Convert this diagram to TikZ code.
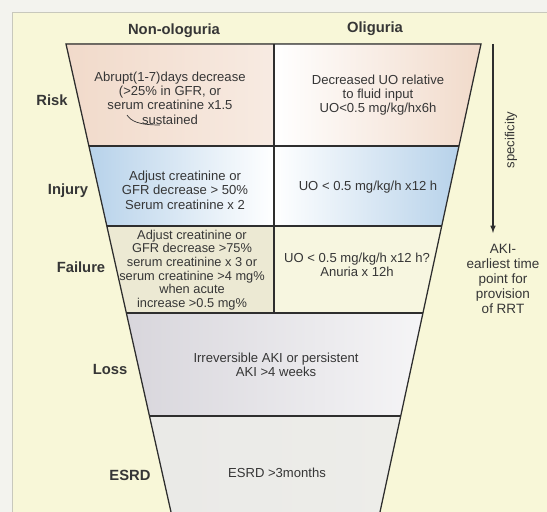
\documentclass[tikz,border=0pt]{standalone}
\usepackage{fontspec}
\setmainfont{Liberation Sans}
\usetikzlibrary{positioning}

\definecolor{outerwhite}{HTML}{F3F3EE}
\definecolor{panelyellow}{HTML}{F8F7D8}
\definecolor{panelborder}{HTML}{C8C8BC}
\definecolor{linegrey}{HTML}{2E2E2E}
\definecolor{textgrey}{HTML}{363636}
\definecolor{riskpeach}{HTML}{F1DACA}
\definecolor{injblue}{HTML}{B7D2EA}
\definecolor{failbeige}{HTML}{ECE9D3}
\definecolor{failyellow}{HTML}{F7F6E0}
\definecolor{lossgrey}{HTML}{D8D6DC}
\definecolor{esrdgrey}{HTML}{EDEDE9}

\tikzset{
  celltext/.style={align=center, text=textgrey, font=\fontsize{9.3}{10.2}\selectfont},
  rowlabel/.style={text=textgrey, font=\fontsize{10.5}{12}\selectfont\bfseries},
  funnelline/.style={draw=linegrey, line width=0.9pt},
}

\begin{document}
\begin{tikzpicture}[x=0.025cm, y=-0.025cm]
  \useasboundingbox (0,0) rectangle (547,512);

  % Pozadi - panel
  \fill[outerwhite] (0,0) rectangle (547,512);
  \fill[panelyellow] (12,12) rectangle (547,512);
  \draw[panelborder, line width=0.6pt] (12,512) -- (12,12) -- (547,12);

  % Body trychtyre
  \coordinate (L0) at (66,44);    \coordinate (R0) at (481,44);
  \coordinate (L1) at (88.9,146); \coordinate (R1) at (459,146);
  \coordinate (L2) at (106.8,226);\coordinate (R2) at (441.7,226);
  \coordinate (L3) at (126.4,313);\coordinate (R3) at (423,313);
  \coordinate (L4) at (149.3,416);\coordinate (R4) at (400.7,416);
  \coordinate (L5) at (171,512);  \coordinate (R5) at (380,512);
  \coordinate (M0) at (274,44);   \coordinate (M1) at (274,146);
  \coordinate (M2) at (274,226);  \coordinate (M3) at (274,313);

  % Radek Risk
  \fill[left color=riskpeach, right color=riskpeach!55!white] (L0) -- (M0) -- (M1) -- (L1) -- cycle;
  \fill[left color=white, right color=riskpeach] (M0) -- (R0) -- (R1) -- (M1) -- cycle;

  % Radek Injury
  \fill[left color=injblue, right color=white] (L1) -- (M1) -- (M2) -- (L2) -- cycle;
  \fill[left color=white, right color=injblue] (M1) -- (R1) -- (R2) -- (M2) -- cycle;

  % Radek Failure
  \fill[failbeige] (L2) -- (M2) -- (M3) -- (L3) -- cycle;
  \fill[failyellow] (M2) -- (R2) -- (R3) -- (M3) -- cycle;

  % Radek Loss
  \fill[left color=lossgrey, right color=lossgrey!25!white] (L3) -- (R3) -- (R4) -- (L4) -- cycle;

  % Radek ESRD
  \fill[left color=esrdgrey!85!lossgrey, right color=esrdgrey] (L4) -- (R4) -- (R5) -- (L5) -- cycle;

  % Obrys a deleni
  \draw[funnelline] (L5) -- (L0) -- (R0) -- (R5);
  \draw[funnelline] (L1) -- (R1) (L2) -- (R2) (L3) -- (R3) (L4) -- (R4);
  \draw[funnelline] (M0) -- (M3);

  % Zahlavi
  \node[rowlabel] (headnon) at (174,31) {Non-ologuria};
  \node[rowlabel] (headoli) at (375,29) {Oliguria};

  % Popisky radku
  \node[rowlabel] (risk) at (52,100) {Risk};
  \node[rowlabel] (injury) at (68,191) {Injury};
  \node[rowlabel] (failure) at (81,267) {Failure};
  \node[rowlabel] (loss) at (110,369) {Loss};
  \node[rowlabel] (esrd) at (130,475) {ESRD};

  % Texty v bunkach
  \node[celltext] (risknon) at (170,98) {Abrupt(1-7)days decrease\\(>25\% in GFR, or\\serum creatinine x1.5\\sustained};
  \draw[textgrey, line width=0.5pt] (127,115) .. controls (131,121) and (138,125) .. (160,125);
  \node[celltext] (riskoli) at (378,95) {Decreased UO relative\\to fluid input\\UO<0.5 mg/kg/hx6h};
  \node[celltext] (injnon) at (185,190) {Adjust creatinine or\\GFR decrease > 50\%\\Serum creatinine x 2};
  \node[celltext] (injoli) at (368,187) {UO < 0.5 mg/kg/h x12 h};
  \node[celltext, font=\fontsize{9.1}{9.7}\selectfont] (failnon) at (192,270) {Adjust creatinine or\\GFR decrease >75\%\\serum creatinine x 3 or\\serum creatinine >4 mg\%\\when acute\\increase >0.5 mg\%};
  \node[celltext] (failoli) at (357,265) {UO < 0.5 mg/kg/h x12 h?\\Anuria x 12h};
  \node[celltext] (losstext) at (276,365) {Irreversible AKI or persistent\\AKI >4 weeks};
  \node[celltext] (esrdtext) at (277,473) {ESRD >3months};

  % Sipka specificity
  \coordinate (spectop) at (493,44);
  \coordinate (specbot) at (493,233);
  \draw[linegrey, line width=0.8pt, -latex] (spectop) -- (specbot);
  \node[celltext, rotate=90] (spectext) at (511,140) {specificity};
  \node[celltext, font=\fontsize{9.6}{10.7}\selectfont] (akitext) at (503,279) {AKI-\\earliest time\\point for\\provision\\of RRT};
\end{tikzpicture}
\end{document}
